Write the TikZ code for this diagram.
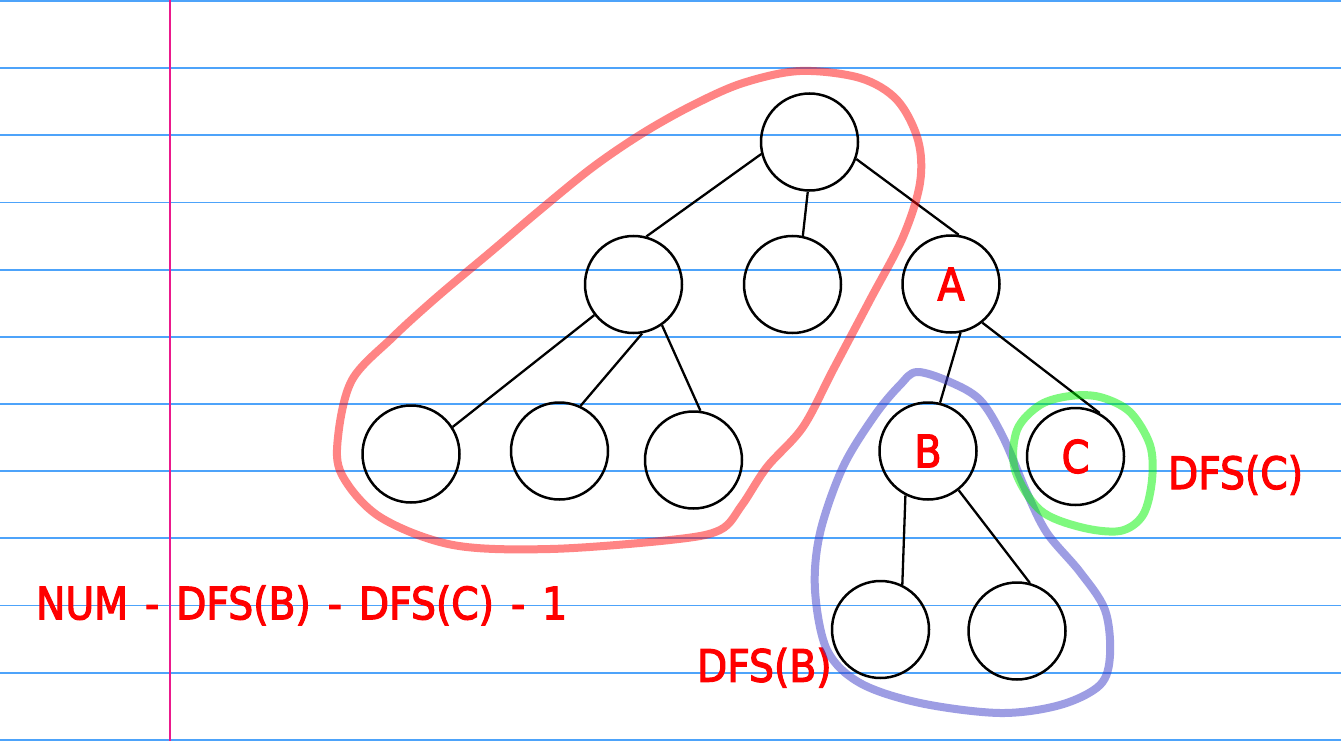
\documentclass[tikz,border=0pt]{standalone}
\usepackage{fontspec}
\setmainfont{DejaVu Sans}[FakeStretch=0.88,FakeBold=2.6]
\definecolor{ruleblue}{RGB}{77,163,250}
\definecolor{marginpink}{rgb}{0.92,0.10,0.55}
\definecolor{penred}{RGB}{255,10,10}
\definecolor{penblue}{RGB}{60,60,200}
\definecolor{pengreen}{RGB}{0,245,0}
\begin{document}
\begin{tikzpicture}[x=1pt,y=-1pt,
  tn/.style={circle,draw,line width=2.5pt,minimum size=97pt,inner sep=0pt,text=red,font=\fontsize{45}{50}\selectfont},
  edge/.style={line width=2.3pt,draw=black},
  rule/.style={line width=1.8pt,draw=ruleblue},
  lbl/.style={text=red,font=\fontsize{44.6}{50}\selectfont,inner sep=0pt,anchor=base west},
  pen/.style={line width=8pt,opacity=0.5,line cap=round,line join=round}]
\useasboundingbox (0,0) rectangle (1341,741);
\fill[white] (0,0) rectangle (1341,741);
\foreach \k in {0,...,11} \draw[rule] (0,{1+67.17*\k}) -- (1341,{1+67.17*\k});
\fill[marginpink] (168.6,0) rectangle (170.6,741);
% tree nodes
\node[tn] (r) at (809.5,142) {};
\node[tn] (l) at (633.5,284.5) {};
\node[tn] (m) at (792.5,284.5) {};
\node[tn] (a) at (951,284) {A};
\node[tn] (l1) at (411,454) {};
\node[tn] (l2) at (559.5,451) {};
\node[tn] (l3) at (693.5,460) {};
\node[tn] (b) at (928,451) {B};
\node[tn] (c) at (1075.5,456.5) {C};
\node[tn] (b1) at (880.5,629.5) {};
\node[tn] (b2) at (1017,631) {};
% edges
\draw[edge] (r.194) -- (l.75);
\draw[edge] (r.268) -- (m.78);
\draw[edge] (r.340) -- (a.81);
\draw[edge] (l.218) -- (l1.33);
\draw[edge] (l.280) -- (l2.65);
\draw[edge] (l.305) -- (l3.82);
\draw[edge] (a.281) -- (b.76);
\draw[edge] (a.309) -- (c.61);
\draw[edge] (b.243) -- (b1.64);
\draw[edge] (b.308) -- (b2.75);
% labels
\node[lbl] (num) at (35.9,619.3) {\spaceskip=17pt NUM - DFS(B) - DFS(C) - 1};
\node[lbl] (dfsb) at (696.8,681.7) {DFS(B)};
\node[lbl] (dfsc) at (1167.8,489) {DFS(C)};
% pen loops
\draw[pen,penred] plot[smooth cycle,tension=0.55] coordinates {
 (742,505) (767,467) (803,427) (833,370) (870,300) (903,237) (920,183)
 (918,140) (897,100) (860,78) (800,71) (743,83) (693,105) (643,133)
 (593,167) (540,210) (493,250) (437,297) (393,337) (352,380) (338,437)
 (342,475) (380,517) (453,545) (550,549) (670,540) (720,530)};
\draw[pen,penblue] plot[smooth cycle,tension=0.55] coordinates {
 (917,372) (950,382) (980,400) (1003,437) (1027,493) (1047,533) (1080,572)
 (1105,610) (1110,655) (1100,685) (1060,705) (1000,713) (920,703) (860,683)
 (827,650) (815,590) (820,533) (843,467) (875,415) (900,385)};
\draw[pen,pengreen] plot[smooth cycle,tension=0.55] coordinates {
 (1017,430) (1040,405) (1070,396) (1100,397) (1130,412) (1150,445)
 (1152,480) (1143,515) (1120,531) (1080,527) (1040,510) (1015,470)};
\end{tikzpicture}
\end{document}
